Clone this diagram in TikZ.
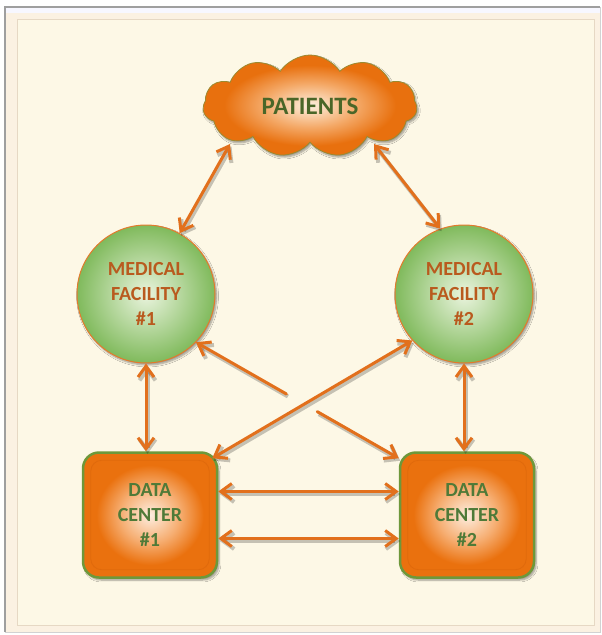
\documentclass[tikz,border=0pt]{standalone}
\usepackage{fontspec}
\setmainfont{Carlito}
\usetikzlibrary{shapes.symbols,arrows.meta,calc,shadows.blur}

% palette
\definecolor{paper}{HTML}{FDF8E6}
\definecolor{bevel}{HTML}{FBF1E2}
\definecolor{frameline}{HTML}{E6D8C4}
\definecolor{arrowc}{HTML}{E2701C}
\definecolor{mfin}{HTML}{EAF4DE}
\definecolor{mfout}{HTML}{80BA5C}
\definecolor{mfedge}{HTML}{E47A2C}
\definecolor{mftext}{HTML}{B95A1E}
\definecolor{dctext}{HTML}{4F7A38}
\definecolor{dcedge}{HTML}{6E983A}
\definecolor{pattext}{HTML}{4A6628}
\definecolor{cloudedge}{HTML}{9A8A30}
\definecolor{pillowin}{HTML}{FDEEE0}
\definecolor{pillowmid}{HTML}{F6AE72}
\definecolor{pillowout}{HTML}{EA710E}
\definecolor{ringc}{HTML}{D8640A}
\definecolor{cloudin}{HTML}{FDF0E0}
\definecolor{cloudmid}{HTML}{F4A866}
\definecolor{cloudout}{HTML}{E8700E}

\pgfdeclareradialshading{pillow}{\pgfpoint{0bp}{0bp}}{%
  color(0bp)=(pillowin); color(11bp)=(pillowmid); color(20bp)=(pillowout);
  color(25bp)=(pillowout); color(50bp)=(pillowout)}
\pgfdeclareradialshading{puff}{\pgfpoint{0bp}{0bp}}{%
  color(0bp)=(cloudin); color(11bp)=(cloudmid); color(20bp)=(cloudout);
  color(25bp)=(cloudout); color(50bp)=(cloudout)}

\tikzset{
  cloudnode/.style={cloud, cloud puffs=11, cloud puff arc=115, aspect=2.1,
    minimum width=214pt, minimum height=102pt, draw=cloudedge, line width=0.8pt,
    shading=puff, blur shadow={shadow blur steps=6, shadow xshift=1.5pt, shadow yshift=-2pt},
    text=pattext, font=\bfseries\fontsize{25}{28}\selectfont},
  facility/.style={circle, minimum size=138pt, draw=mfedge, line width=1pt,
    shading=radial, inner color=mfin, outer color=mfout,
    blur shadow={shadow blur steps=6, shadow xshift=1.5pt, shadow yshift=-2pt},
    align=center, text=mftext, font=\bfseries\fontsize{20}{25}\selectfont},
  datacenter/.style={rectangle, rounded corners=16pt, minimum width=134pt,
    minimum height=125pt, draw=dcedge, line width=2.5pt, shading=pillow,
    blur shadow={shadow blur steps=6, shadow xshift=2pt, shadow yshift=-2.5pt},
    align=center, text=dctext, font=\bfseries\fontsize{20}{25}\selectfont},
  ring/.style={draw=ringc, line width=0.8pt, rounded corners=11pt, opacity=0.55},
  arr/.style={draw=arrowc, line width=3pt, line cap=round,
    >={Straight Barb[length=11pt,width=16pt]}, <->,
    preaction={draw=black, opacity=0.22, line width=4pt,
      transform canvas={shift={(1.5pt,-2.5pt)}}}},
}

\begin{document}
\begin{tikzpicture}[x=1pt, y=-1pt]
  \useasboundingbox (0,0) rectangle (602,635);
  % page and bevelled frame
  \fill[white] (0,0) rectangle (602,635);
  \fill[bevel] (5,7) rectangle (600,632);
  \fill[white!85!blue!20] (5,7) rectangle (600,13);
  \draw[gray!75, line width=1.6pt] (5,632) -- (5,7) -- (600,7);
  \draw[gray!35, line width=1pt] (600,7) -- (600,632) -- (5,632);
  \fill[paper] (17,19) rectangle (594,625);
  \draw[frameline, line width=1pt] (17,19) rectangle (594,625);

  % nodes
  \node[cloudnode] (pat) at (310,106) {PATIENTS};
  \node[facility] (mf1) at (146,294) {MEDICAL\\FACILITY\\\#1};
  \node[facility] (mf2) at (464,294) {MEDICAL\\FACILITY\\\#2};
  \node[datacenter] (dc1) at (150,515) {DATA\\CENTER\\\#1};
  \node[datacenter] (dc2) at (467,515) {DATA\\CENTER\\\#2};

  % bevel rings inside the data centre boxes
  \draw[ring] ([shift={(9,9)}]dc1.north west) rectangle ([shift={(-9,-9)}]dc1.south east);
  \draw[ring] ([shift={(9,9)}]dc2.north west) rectangle ([shift={(-9,-9)}]dc2.south east);

  % patients to facilities
  \draw[arr] ([shift={(-80,38)}]pat.center) -- (mf1.61.6);
  \draw[arr] ([shift={(64,38)}]pat.center) -- (mf2.110);

  % facilities to their data centres
  \draw[arr] (mf1.south) -- (mf1.south |- dc1.north);
  \draw[arr] (mf2.south) -- (mf2.south |- dc2.north);

  % data centre 1 to facility 2
  \draw[arr] ([shift={(-6,7)}]dc1.north east) -- (mf2.-138);

  % facility 1 to data centre 2, broken where it crosses
  \coordinate (cA) at (mf1.-44);
  \coordinate (cB) at ([yshift=-7pt]dc2.north west);
  \draw[arr, <-] (cA) -- ($(cA)!0.446!(cB)$);
  \draw[arr, ->] ($(cA)!0.598!(cB)$) -- (cB);

  % links between the data centres
  \draw[arr] ([yshift=23.5pt]dc1.east) -- ([yshift=23.5pt]dc2.west);
  \draw[arr] ([yshift=-23.5pt]dc1.east) -- ([yshift=-23.5pt]dc2.west);
\end{tikzpicture}
\end{document}
